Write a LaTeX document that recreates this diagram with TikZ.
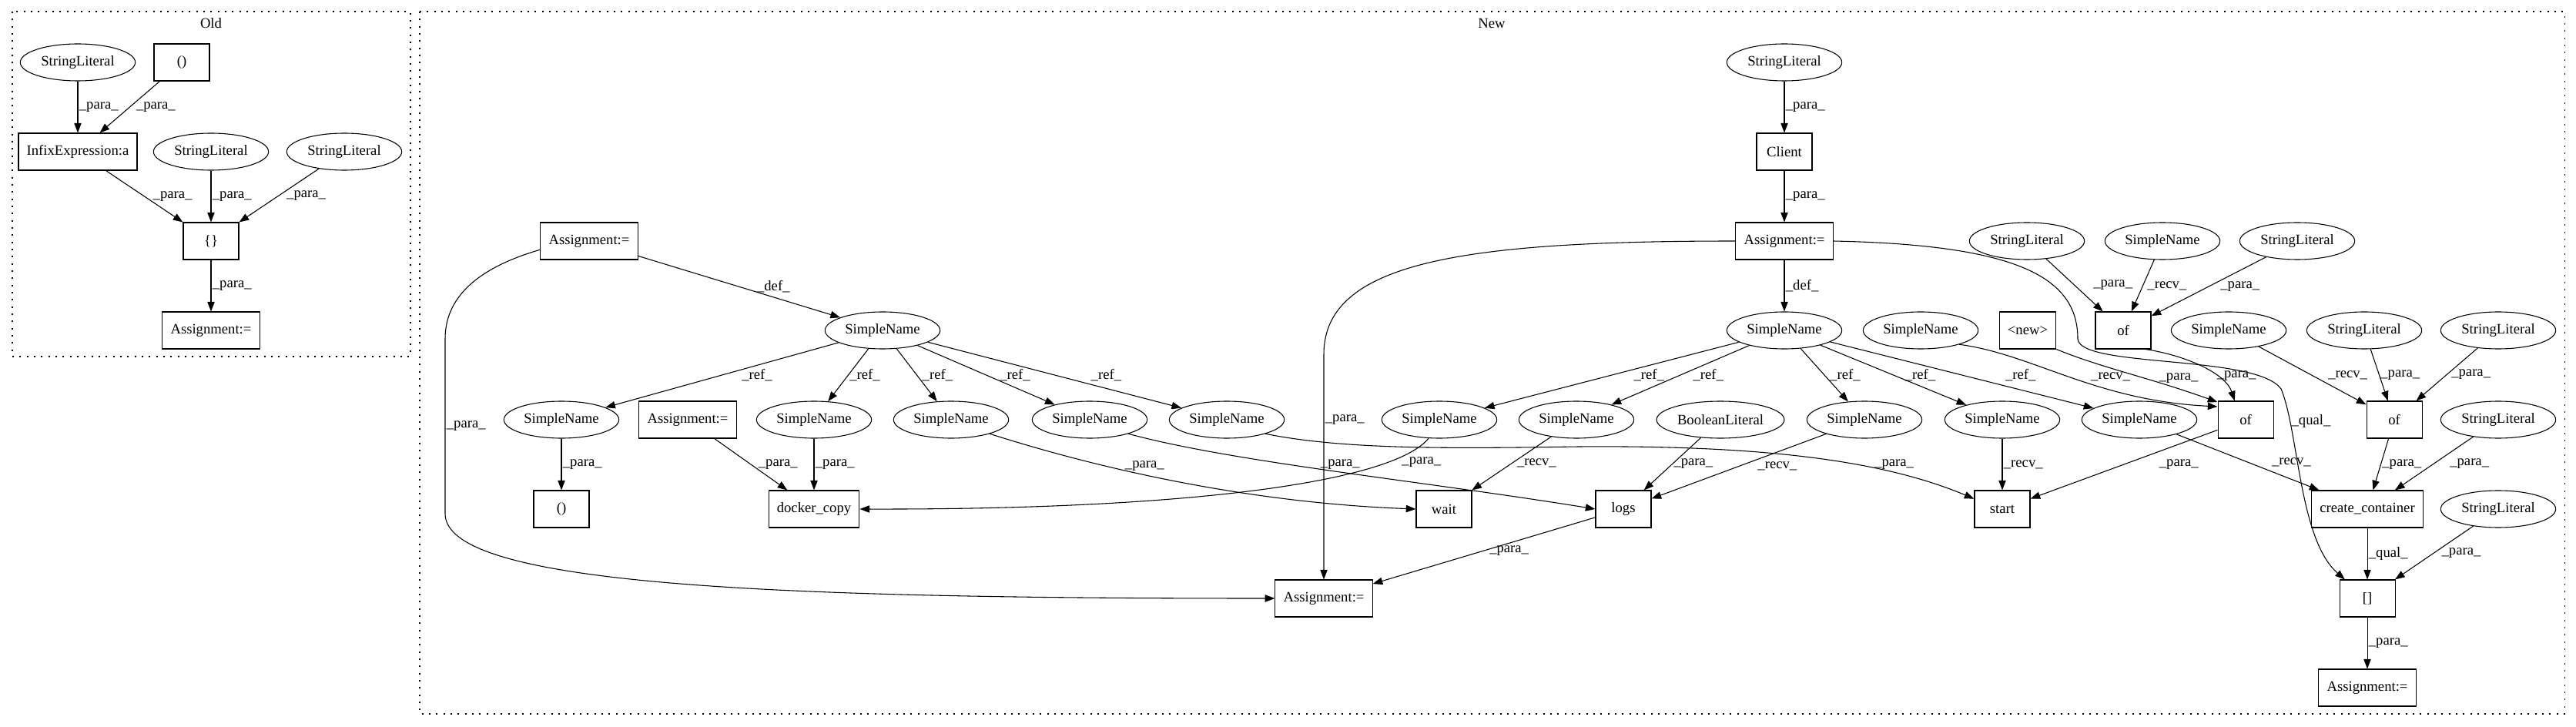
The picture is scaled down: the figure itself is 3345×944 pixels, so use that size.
\documentclass[tikz,border=0pt]{standalone}
\usepackage{fontspec}
\setmainfont{Liberation Serif}
\usetikzlibrary{arrows.meta,shapes.geometric}
\begin{document}
\begin{tikzpicture}[x=0.75pt,y=-0.75pt,line width=0.8pt,>={Triangle[length=9.5pt,width=7pt]},
	every node/.style={font=\fontsize{14}{16}\selectfont},
	box/.style={draw,rectangle,minimum width=54pt,minimum height=36pt,inner xsep=8pt},
	oval/.style={draw,ellipse,minimum width=112pt,minimum height=36pt,inner xsep=2pt},
	lab/.style={right,inner sep=1pt},
	cluster/.style={dash pattern=on 1.5pt off 5.5pt}]

	\useasboundingbox (0,0) rectangle (3345,944);
	\draw[cluster] (16,15) rectangle (533,463);
	\draw[cluster] (545,15) rectangle (3330,927);
	\node (old_title) at (274,30) {Old};
	\node (new_title) at (1937,30) {New};

	\node[oval] (o_sl1) at (101,81) {StringLiteral};
	\node[box] (o_par) at (236,81) {()};
	\node[box] (o_infix) [below of=o_sl1, node distance=87pt] {InfixExpression:a};
	\node[oval] (o_sl2) at (274,197) {StringLiteral};
	\node[oval] (o_sl3) at (447,197) {StringLiteral};
	\node[box] (o_brace) [below of=o_sl2, node distance=87pt] {\{\}};
	\node[box] (o_asg) [below of=o_brace, node distance=87pt] {Assignment:=};

	\path[->] (o_sl1) edge node[lab] {\_para\_} (o_infix);
	\path[->] (o_par) edge node[lab, right=5pt] {\_para\_} (o_infix);
	\path[->] (o_infix) edge node[lab, right=7pt] {\_para\_} (o_brace);
	\path[->] (o_sl2) edge node[lab] {\_para\_} (o_brace);
	\path[->] (o_sl3) edge node[lab, right=6pt] {\_para\_} (o_brace);
	\path[->] (o_brace) edge node[lab] {\_para\_} (o_asg);

	\node[oval] (sl_client) at (2317,81) {StringLiteral};
	\node[box] (client) [below of=sl_client, node distance=87pt] {Client};
	\node[box] (asg_client) [below of=client, node distance=87pt] {Assignment:=};
	\node[oval] (name_c) [below of=asg_client, node distance=87pt] {SimpleName};
	\node[box] (asg_top) at (765,313) {Assignment:=};
	\node[oval] (name_a) at (1146,429) {SimpleName};
	\node[oval] (sl_of1a) at (2632,313) {StringLiteral};
	\node[oval] (sn_of1) at (2808,313) {SimpleName};
	\node[oval] (sl_of1b) at (2983,313) {StringLiteral};
	\node[oval] (sn_of2) at (2494,429) {SimpleName};
	\node[box] (new) at (2633,429) {<new>};
	\node[box] (of1) at (2757,429) {of};
	\node[oval] (sn_of3) at (2894,429) {SimpleName};
	\node[oval] (sl_of3a) at (3070,429) {StringLiteral};
	\node[oval] (sl_of3b) at (3244,429) {StringLiteral};

	\node[oval] (ref_a1) at (729,545) {SimpleName};
	\node[box] (asg_copy) at (893,545) {Assignment:=};
	\node[oval] (ref_a2) at (1057,545) {SimpleName};
	\node[oval] (ref_a3) at (1235,545) {SimpleName};
	\node[oval] (ref_a4) at (1415,545) {SimpleName};
	\node[oval] (ref_a5) at (1593,545) {SimpleName};
	\node[oval] (ref_c1) at (1869,545) {SimpleName};
	\node[oval] (ref_c2) at (2047,545) {SimpleName};
	\node[oval] (bool) at (2234,545) {BooleanLiteral};
	\node[oval] (ref_c3) at (2421,545) {SimpleName};
	\node[oval] (ref_c4) at (2600,545) {SimpleName};
	\node[oval] (ref_c5) at (2778,545) {SimpleName};
	\node[box] (of2) at (2916,545) {of};
	\node[box] (of3) at (3109,545) {of};
	\node[oval] (sl_cc) at (3244,545) {StringLiteral};

	\node[box] (par2) [below of=ref_a1, node distance=87pt] {()};
	\node[box] (copy) [below of=ref_a2, node distance=87pt] {docker\_copy};
	\node[box] (wait) at (1875,661) {wait};
	\node[box] (logs) at (2108,661) {logs};
	\node[box] (start) [below of=ref_c4, node distance=87pt] {start};
	\node[box] (create) at (3074,661) {create\_container};
	\node[oval] (sl_idx) [below of=sl_cc, node distance=87pt] {StringLiteral};
	\node[box] (asg_logs) at (1719,777) {Assignment:=};
	\node[box] (index) [below of=create, node distance=87pt] {[]};
	\node[box] (asg_idx) [below of=index, node distance=87pt] {Assignment:=};

	\path[->] (sl_client) edge node[lab] {\_para\_} (client);
	\path[->] (client) edge node[lab] {\_para\_} (asg_client);
	\path[->] (asg_client) edge node[lab] {\_def\_} (name_c);
	\path[->] (asg_top) edge node[lab, right=16pt] {\_def\_} (name_a);
	\draw[->] (asg_top.190) .. controls (630,345) and (578,380) .. (578,440) -- (578,667) node[lab, midway] {\_para\_} .. controls (578,760) and (1000,777) .. (asg_logs.west);
	\draw[->] (asg_client.west) .. controls (1900,313) and (1719,340) .. (1719,460) -- (asg_logs.north) node[lab, pos=.29] {\_para\_};
	\draw[->] (asg_client.east) .. controls (2620,318) and (2698,360) .. (2698,440) .. controls (2700,478) and (2930,460) .. (2962,505) .. controls (2985,560) and (2985,700) .. (index.140) node[lab, pos=.2] {\_qual\_};

	\path[->] (name_a) edge node[lab, right=18pt] {\_ref\_} (ref_a1);
	\path[->] (name_a) edge node[lab] {\_ref\_} (ref_a2);
	\path[->] (name_a) edge node[lab, right=4pt] {\_ref\_} (ref_a3);
	\path[->] (name_a) edge node[lab, right=12pt] {\_ref\_} (ref_a4);
	\path[->] (name_a) edge node[lab, right=34pt] {\_ref\_} (ref_a5);

	\path[->] (name_c) edge node[lab, right=20pt] {\_ref\_} (ref_c1);
	\path[->] (name_c) edge node[lab, right=11pt] {\_ref\_} (ref_c2);
	\path[->] (name_c) edge node[lab, right=4pt] {\_ref\_} (ref_c3);
	\path[->] (name_c) edge node[lab, right=10pt] {\_ref\_} (ref_c4);
	\path[->] (name_c) edge node[lab, right=41pt] {\_ref\_} (ref_c5);

	\path[->] (sl_of1a) edge node[lab, right=17pt] {\_para\_} (of1);
	\path[->] (sn_of1) edge node[lab, right=3pt] {\_recv\_} (of1);
	\path[->] (sl_of1b) edge node[lab, right=10pt] {\_para\_} (of1);
	\draw[->] (sn_of2.-20) .. controls (2640,460) and (2720,520) .. (of2.155) node[lab, pos=.5, right=19pt] {\_recv\_};
	\draw[->] (new.south east) .. controls (2730,478) and (2790,490) .. (of2.148) node[lab, pos=.6, right=13pt] {\_para\_};
	\draw[->] (of1.-40) .. controls (2840,462) and (2890,485) .. (of2.120) node[lab, pos=.65] {\_para\_};
	\path[->] (sn_of3) edge node[lab, right=14pt] {\_recv\_} (of3);
	\path[->] (sl_of3a) edge node[lab] {\_para\_} (of3);
	\path[->] (sl_of3b) edge node[lab, right=3pt] {\_para\_} (of3);

	\path[->] (ref_a1) edge node[lab] {\_para\_} (par2);
	\path[->] (asg_copy) edge node[lab, right=6pt] {\_para\_} (copy);
	\path[->] (ref_a2) edge node[lab] {\_para\_} (copy);
	\draw[->] (ref_c1.240) .. controls (1810,625) and (1550,662) .. (copy.east) node[lab, pos=.2, right=12pt] {\_para\_};
	\draw[->] (ref_a3.-20) .. controls (1400,600) and (1600,652) .. (wait.west) node[lab, pos=.35, right=18pt] {\_para\_};
	\draw[->] (ref_a4.-20) .. controls (1600,600) and (1850,625) .. (logs.west) node[lab, pos=.4, right=30pt] {\_para\_};
	\draw[->] (ref_a5.-20) .. controls (1750,585) and (1900,582) .. (2050,580) .. controls (2300,578) and (2450,600) .. (start.160) node[lab, pos=.6, right=20pt] {\_para\_};
	\path[->] (ref_c2) edge node[lab, right=4pt] {\_recv\_} (wait);
	\path[->] (bool) edge node[lab] {\_para\_} (logs);
	\path[->] (ref_c3) edge node[lab, right=17pt] {\_recv\_} (logs);
	\path[->] (ref_c4) edge node[lab] {\_recv\_} (start);
	\path[->] (of2) edge node[lab, right=33pt] {\_para\_} (start);
	\path[->] (ref_c5) edge node[lab, right=22pt] {\_recv\_} (create);
	\path[->] (of3) edge node[lab] {\_para\_} (create);
	\path[->] (sl_cc) edge node[lab, right=14pt] {\_para\_} (create);

	\path[->] (logs) edge node[lab, right=4pt] {\_para\_} (asg_logs);
	\path[->] (create) edge node[lab] {\_qual\_} (index);
	\path[->] (sl_idx) edge node[lab, right=6pt] {\_para\_} (index);
	\path[->] (index) edge node[lab] {\_para\_} (asg_idx);

\end{tikzpicture}
\end{document}
